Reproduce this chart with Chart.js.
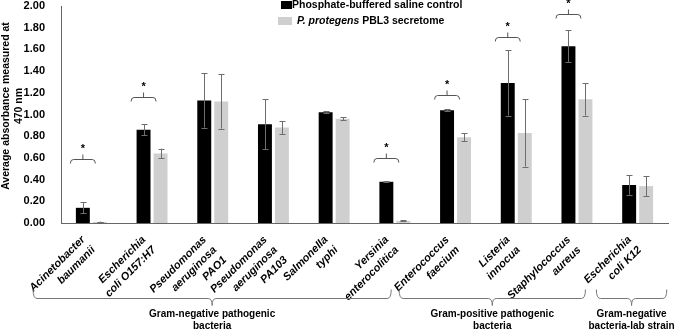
<!DOCTYPE html>
<html>
<head>
<meta charset="utf-8">
<script src="https://cdn.jsdelivr.net/npm/chart.js@4.4.1/dist/chart.umd.min.js"></script>
<style>
html,body{margin:0;padding:0;background:#fff;}
#wrap{width:681px;height:330px;position:relative;}
</style>
</head>
<body>
<div id="wrap"><canvas id="c"></canvas></div>
<script>
// ---- data ----
const categories = [
  ["Acinetobacter","baumanii"],
  ["Escherichia","coli O157:H7"],
  ["Pseudomonas","aeruginosa","PAO1"],
  ["Pseudomonas","aeruginosa","PA103"],
  ["Salmonella","typhi"],
  ["Yersinia","enterocolitica"],
  ["Enterococcus","faecium"],
  ["Listeria","innocua"],
  ["Staphylococcus","aureus"],
  ["Escherichia","coli K12"]
];
const seriesNames = ["Phosphate-buffered saline control", "P. protegens PBL3 secretome"];
const pbsValues = [0.14, 0.86, 1.13, 0.91, 1.02, 0.38, 1.04, 1.29, 1.63, 0.35];
const pbsErrors = [0.05, 0.05, 0.25, 0.23, 0.01, 0.005, 0.01, 0.30, 0.145, 0.09];
const secValues = [0.01, 0.64, 1.12, 0.88, 0.96, 0.02, 0.79, 0.83, 1.14, 0.34];
const secErrors = [0.003, 0.045, 0.25, 0.06, 0.015, 0.005, 0.035, 0.31, 0.15, 0.09];
const significanceLevels = [0.59, 1.16, null, null, null, 0.60, 1.18, 1.71, 1.93, null];
const groupLabels = [["Gram-negative pathogenic","bacteria"],["Gram-positive pathogenic","bacteria"],["Gram-negative","bacteria-lab strain"]];
const groupFirst = [0, 6, 9];
const groupLast = [5, 8, 9];
const yTicks = [0,0.2,0.4,0.6,0.8,1.0,1.2,1.4,1.6,1.8,2.0];
const yTitle = ["Average absorbance measured at","470 nm"];

const FONT = "'Liberation Sans', Arial, sans-serif";

const errorBarPlugin = {
  id: 'errorBars',
  afterDatasetsDraw(chart) {
    const ctx = chart.ctx, y = chart.scales.y;
    const errs = [pbsErrors, secErrors];
    chart.data.datasets.forEach((ds, di) => {
      const meta = chart.getDatasetMeta(di);
      meta.data.forEach((el, j) => {
        const v = ds.data[j], e = errs[di][j];
        const yt = y.getPixelForValue(v + e), yb = y.getPixelForValue(Math.max(0, v - e));
        ctx.save();
        ctx.strokeStyle = '#6e6e6e'; ctx.lineWidth = 1;
        ctx.beginPath();
        const x = Math.round(el.x) + 0.5;
        ctx.moveTo(x, yt); ctx.lineTo(x, yb);
        ctx.moveTo(x - 3, Math.round(yt) + 0.5); ctx.lineTo(x + 3, Math.round(yt) + 0.5);
        ctx.moveTo(x - 3, Math.round(yb) + 0.5); ctx.lineTo(x + 3, Math.round(yb) + 0.5);
        ctx.stroke();
        ctx.restore();
      });
    });
  }
};

const annotatePlugin = {
  id: 'annotate',
  afterDraw(chart) {
    const ctx = chart.ctx, y = chart.scales.y, x = chart.scales.x;
    const area = chart.chartArea;
    const meta0 = chart.getDatasetMeta(0);
    ctx.save();
    // y axis title
    ctx.fillStyle = '#000';
    ctx.font = "bold 10.5px " + FONT;
    ctx.textAlign = 'center'; ctx.textBaseline = 'middle';
    ctx.translate(6, 106);
    ctx.rotate(-Math.PI / 2);
    ctx.fillText(yTitle[0], 0, 0);
    ctx.fillText(yTitle[1], 0, 13);
    ctx.setTransform(1, 0, 0, 1, 0, 0);
    // significance brackets
    significanceLevels.forEach((lv, i) => {
      if (lv === null) return;
      const cx = meta0.data[i].x;
      const ly = Math.round(y.getPixelForValue(lv)) + 0.5;
      const x0 = cx - 12.5, x1 = cx + 12.5;
      ctx.strokeStyle = '#555'; ctx.lineWidth = 1;
      ctx.beginPath();
      ctx.moveTo(x0, ly + 4); ctx.quadraticCurveTo(x0, ly, x0 + 3, ly);
      ctx.lineTo(x1 - 3, ly); ctx.quadraticCurveTo(x1, ly, x1, ly + 4);
      ctx.moveTo(cx, ly); ctx.lineTo(cx, ly - 5);
      ctx.stroke();
      ctx.fillStyle = '#000';
      ctx.font = "bold 11px " + FONT;
      ctx.textAlign = 'center'; ctx.textBaseline = 'alphabetic';
      ctx.fillText('*', cx, ly - 7.5);
    });
    // group braces
    const leftOff = [-0.96, -0.93, -0.68], rightOff = [-0.06, 0.14, 0.48];
    const step = x.getPixelForValue(1) - x.getPixelForValue(0);
    const by = area.bottom + 75.5;
    groupLabels.forEach((lab, g) => {
      const x0 = x.getPixelForValue(groupFirst[g]) + leftOff[g] * step;
      const x1 = x.getPixelForValue(groupLast[g]) + rightOff[g] * step;
      const cx = (x0 + x1) / 2;
      ctx.strokeStyle = '#777'; ctx.lineWidth = 1;
      ctx.beginPath();
      ctx.moveTo(x0, by - 9); ctx.quadraticCurveTo(x0, by, x0 + 4, by);
      ctx.lineTo(cx - 4, by); ctx.quadraticCurveTo(cx, by, cx, by + 7);
      ctx.quadraticCurveTo(cx, by, cx + 4, by);
      ctx.lineTo(x1 - 4, by); ctx.quadraticCurveTo(x1, by, x1, by - 9);
      ctx.stroke();
      ctx.fillStyle = '#000';
      ctx.font = "bold 10px " + FONT;
      ctx.textAlign = 'center'; ctx.textBaseline = 'middle';
      ctx.fillText(lab[0], cx, area.bottom + 91);
      ctx.fillText(lab[1], cx, area.bottom + 103);
    });
    // legend
    const colors = ['#000000', '#cfcfcf'];
    ctx.textBaseline = 'middle'; ctx.textAlign = 'left';
    ctx.fillStyle = colors[0];
    ctx.fillRect(281, 1, 11, 8);
    ctx.fillStyle = '#000';
    ctx.font = "bold 10.5px " + FONT;
    ctx.fillText(seriesNames[0], 292, 5);
    ctx.fillStyle = colors[1];
    ctx.fillRect(278, 17, 14, 8);
    ctx.fillStyle = '#000';
    const parts = seriesNames[1].split(' ');
    const ital = parts.slice(0, 2).join(' ') + ' ';
    const rest = parts.slice(2).join(' ');
    ctx.font = "italic bold 10.5px " + FONT;
    ctx.fillText(ital, 297, 21.5);
    const w = ctx.measureText(ital).width;
    ctx.font = "bold 10.5px " + FONT;
    ctx.fillText(rest, 297 + w, 21.5);
    ctx.restore();
  }
};

new Chart(document.getElementById('c'), {
  type: 'bar',
  data: {
    labels: categories,
    datasets: [
      { label: seriesNames[0], data: pbsValues, backgroundColor: '#000000', borderWidth: 0,
        barPercentage: 0.82, categoryPercentage: 0.56 },
      { label: seriesNames[1], data: secValues, backgroundColor: '#cfcfcf', borderWidth: 0,
        barPercentage: 0.82, categoryPercentage: 0.56 }
    ]
  },
  options: {
    responsive: true, maintainAspectRatio: false, animation: false, devicePixelRatio: 1,
    layout: { padding: { top: 6, right: 13, left: 0, bottom: 0 } },
    plugins: { legend: { display: false }, tooltip: { enabled: false } },
    scales: {
      x: {
        grid: { display: false },
        border: { display: true, color: '#666', width: 1 },
        ticks: {
          autoSkip: false, maxRotation: 45, minRotation: 45, padding: 2, labelOffset: -8,
          color: '#000', font: { family: FONT, size: 11, weight: 'bold', style: 'italic', lineHeight: 1.3 }
        },
        afterFit(s) { s.height = 107; s.paddingLeft = 0; s.paddingRight = 0; }
      },
      y: {
        min: 0, max: 2,
        afterBuildTicks(s) { s.ticks = yTicks.map(v => ({ value: v })); },
        grid: { display: false },
        border: { display: true, color: '#666', width: 1 },
        ticks: {
          padding: 8, color: '#000',
          font: { family: FONT, size: 11, weight: 'bold' },
          callback: v => Number(v).toFixed(2)
        },
        title: { display: false },
        afterFit(s) { s.width = 61; s.paddingTop = 0; s.paddingBottom = 0; }
      }
    }
  },
  plugins: [errorBarPlugin, annotatePlugin]
});
</script>
</body>
</html>
